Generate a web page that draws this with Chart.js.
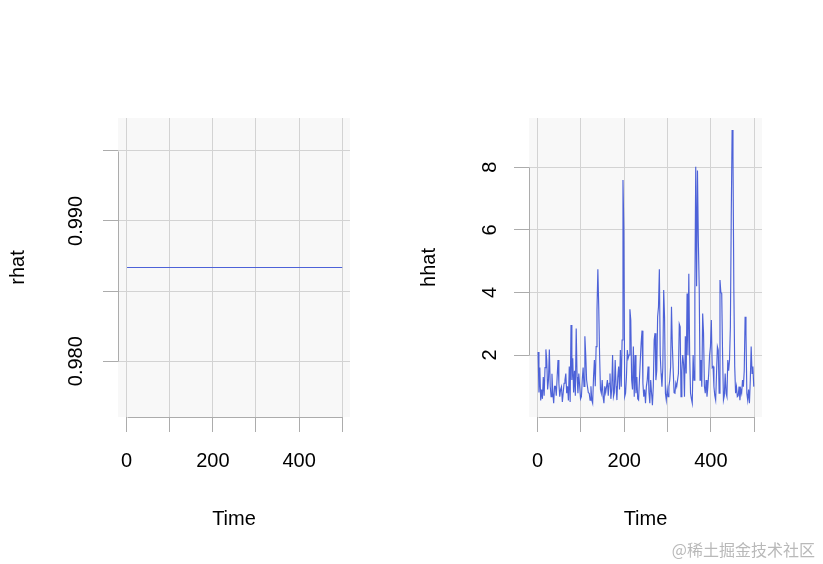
<!DOCTYPE html>
<html>
<head>
<meta charset="utf-8">
<script src="https://cdn.jsdelivr.net/npm/chart.js@4"></script>
<style>
  html, body { margin: 0; padding: 0; background: #ffffff; }
  body { width: 823px; height: 564px; position: relative; overflow: hidden; }
  canvas { position: absolute; top: 0; }
  #c1 { left: 0; }
  #c2 { left: 411px; }
  #wm { position: absolute; right: 8px; top: 537px; font: 16px "Noto Sans CJK SC", sans-serif; color: #b9b9b9; white-space: nowrap; }
</style>
</head>
<body>
<canvas id="c1" width="412" height="564"></canvas>
<canvas id="c2" width="412" height="564"></canvas>
<div id="wm">@稀土掘金技术社区</div>
<script>
// ---- data ----
const timeTicks = [0, 100, 200, 300, 400, 500];
const timeTickLabels = ['0', '', '200', '', '400', ''];
const rhatTicks = [0.980, 0.985, 0.990, 0.995];
const rhatTickLabels = ['0.980', '', '0.990', ''];
const hhatTicks = [2, 4, 6, 8];
const hhatTickLabels = ['2', '4', '6', '8'];

// rhat is constant over the whole series
const rhatTimes = [1, 500];
const rhatValues = [0.98668, 0.98668];

// hhat, one value per 2 time steps (t = 1, 3, 5, ... 499)
const hhat = [
  2.1, 0.8, 1.6, 0.55, 0.9,
  0.6, 1.3, 0.7, 1.6, 2.18,
  1.84, 0.9, 1.2, 2.18, 1.0,
  0.67, 1.4, 0.8, 0.46, 1.0,
  1.0, 0.7, 1.3, 1.84, 1.1,
  0.67, 0.9, 0.99, 0.5, 0.8,
  1.1, 1.2, 1.41, 0.78, 1.0,
  0.55, 1.63, 0.5, 2.96, 1.2,
  1.9, 0.8, 1.5, 0.7, 2.85,
  1.3, 0.78, 1.41, 1.0, 0.6,
  0.67, 1.2, 1.6, 1.0, 2.6,
  2.0, 1.2, 0.99, 0.8, 0.78,
  0.56, 1.0, 0.56, 0.46, 1.3,
  1.84, 1.0, 2.27, 3.44, 4.74,
  3.54, 2.0, 0.9, 0.78, 1.2,
  0.67, 0.46, 1.0, 0.8, 0.99,
  1.2, 0.7, 1.1, 1.41, 0.6,
  0.9, 2.0, 0.67, 0.8, 1.84,
  1.0, 0.56, 1.3, 1.63, 0.9,
  2.16, 0.99, 2.48, 7.59, 6.0,
  0.67, 0.78, 1.3, 2.16, 1.9,
  2.0, 3.46, 3.12, 1.2, 0.9,
  2.27, 0.67, 2.0, 0.78, 1.3,
  0.6, 0.56, 1.2, 1.84, 2.4,
  2.78, 1.1, 0.67, 0.9, 0.46,
  0.99, 1.2, 1.63, 0.8, 0.46,
  1.2, 0.78, 0.4, 1.0, 2.48,
  2.7, 1.2, 1.5, 3.22, 3.54,
  4.74, 2.0, 1.41, 0.99, 1.6,
  4.08, 3.2, 0.78, 0.56, 0.9,
  0.67, 0.99, 1.2, 1.63, 3.54,
  2.3, 1.5, 0.8, 0.78, 1.1,
  0.99, 1.2, 1.41, 2.99, 2.9,
  0.67, 1.5, 2.0, 1.7, 0.67,
  2.6, 1.41, 3.97, 2.0, 4.6,
  2.0, 0.78, 0.6, 0.46, 2.0,
  1.2, 3.97, 8.02, 4.2, 7.9,
  5.67, 4.18, 1.2, 1.84, 0.99,
  3.33, 2.7, 1.0, 0.78, 1.2,
  0.67, 0.99, 1.41, 2.0, 2.27,
  3.12, 1.6, 1.63, 0.99, 0.7,
  0.56, 1.4, 2.27, 2.16, 0.78,
  4.4, 4.0, 3.97, 2.0, 0.56,
  0.7, 1.41, 0.78, 0.67, 1.84,
  1.5, 1.84, 2.9, 6.42, 9.19,
  8.34, 4.08, 1.63, 0.78, 0.99,
  0.67, 0.7, 0.99, 0.56, 0.9,
  0.78, 1.2, 0.99, 1.5, 3.22,
  2.7, 0.78, 0.56, 0.9, 0.46,
  1.2, 2.27, 1.41, 1.63, 0.99
];

// ---- styling ----
const FONT = { family: '"Liberation Sans", Arial, sans-serif', size: 20 };
const LINE_COLOR = '#4d62d8';
const GRID_COLOR = '#d3d3d3';
const AXIS_COLOR = '#acacac';
const PANEL_BG = '#f8f8f8';

const rStyle = {
  id: 'rStyle',
  beforeDraw(chart) {
    const a = chart.chartArea, ctx = chart.ctx;
    ctx.save();
    ctx.fillStyle = PANEL_BG;
    ctx.fillRect(a.left, a.top, a.right - a.left, a.bottom - a.top);
    ctx.restore();
  },
  afterDraw(chart) {
    const ctx = chart.ctx, a = chart.chartArea;
    const xs = chart.scales.x, ys = chart.scales.y;
    const xt = xs.ticks, yt = ys.ticks;
    ctx.save();
    ctx.strokeStyle = AXIS_COLOR;
    ctx.lineWidth = 1;
    ctx.beginPath();
    const yb = Math.round(a.bottom) + 0.5;
    ctx.moveTo(Math.round(xs.getPixelForValue(xt[0].value)) + 0.5, yb);
    ctx.lineTo(Math.round(xs.getPixelForValue(xt[xt.length - 1].value)) + 0.5, yb);
    const xl = Math.round(a.left) + 0.5;
    ctx.moveTo(xl, Math.round(ys.getPixelForValue(yt[0].value)) + 0.5);
    ctx.lineTo(xl, Math.round(ys.getPixelForValue(yt[yt.length - 1].value)) + 0.5);
    ctx.stroke();
    ctx.restore();
  }
};

function makeChart(id, points, yMin, yMax, yTicks, yLabels, yPad, title, padRight, lw) {
  return new Chart(document.getElementById(id), {
    type: 'line',
    data: {
      datasets: [{
        data: points,
        borderColor: LINE_COLOR,
        borderWidth: lw,
        pointRadius: 0,
        tension: 0,
        fill: false
      }]
    },
    options: {
      responsive: false,
      animation: false,
      devicePixelRatio: 1,
      parsing: false,
      normalized: true,
      layout: { padding: { left: 0, top: 118, right: padRight, bottom: 0 } },
      plugins: { legend: { display: false }, tooltip: { enabled: false } },
      scales: {
        x: {
          type: 'linear',
          min: -20, max: 518,
          afterBuildTicks: s => { s.ticks = timeTicks.map(v => ({ value: v })); },
          afterFit: s => { s.height = 147; },
          ticks: {
            autoSkip: false, maxRotation: 0, minRotation: 0,
            padding: 17, color: '#000', font: FONT,
            callback: (v, i) => timeTickLabels[i]
          },
          grid: { color: GRID_COLOR, tickColor: AXIS_COLOR, tickLength: 15, lineWidth: 1 },
          border: { display: false },
          title: { display: true, text: 'Time', color: '#000', font: FONT, padding: { top: 0, bottom: 33 } }
        },
        y: {
          type: 'linear',
          min: yMin, max: yMax,
          afterBuildTicks: s => { s.ticks = yTicks.map(v => ({ value: v })); },
          afterFit: s => { s.width = 118; },
          ticks: {
            autoSkip: false, minRotation: 90, maxRotation: 90,
            crossAlign: 'center', padding: yPad, color: '#000', font: FONT,
            callback: (v, i) => yLabels[i]
          },
          grid: { color: GRID_COLOR, tickColor: AXIS_COLOR, tickLength: 15, lineWidth: 1 },
          border: { display: false },
          title: { display: true, text: title, color: '#000', font: FONT, padding: { top: 6, bottom: 0 } }
        }
      }
    },
    plugins: [rStyle]
  });
}

const rhatPoints = rhatTimes.map((t, i) => ({ x: t, y: rhatValues[i] }));
const hhatPoints = hhat.map((v, i) => ({ x: 2 * i + 1, y: v }));

makeChart('c1', rhatPoints, 0.97602, 0.99734, rhatTicks, rhatTickLabels, 1, 'rhat', 62, 1);
makeChart('c2', hhatPoints, 0.02, 9.575, hhatTicks, hhatTickLabels, 18, 'hhat', 61, 1.15);
</script>
</body>
</html>
